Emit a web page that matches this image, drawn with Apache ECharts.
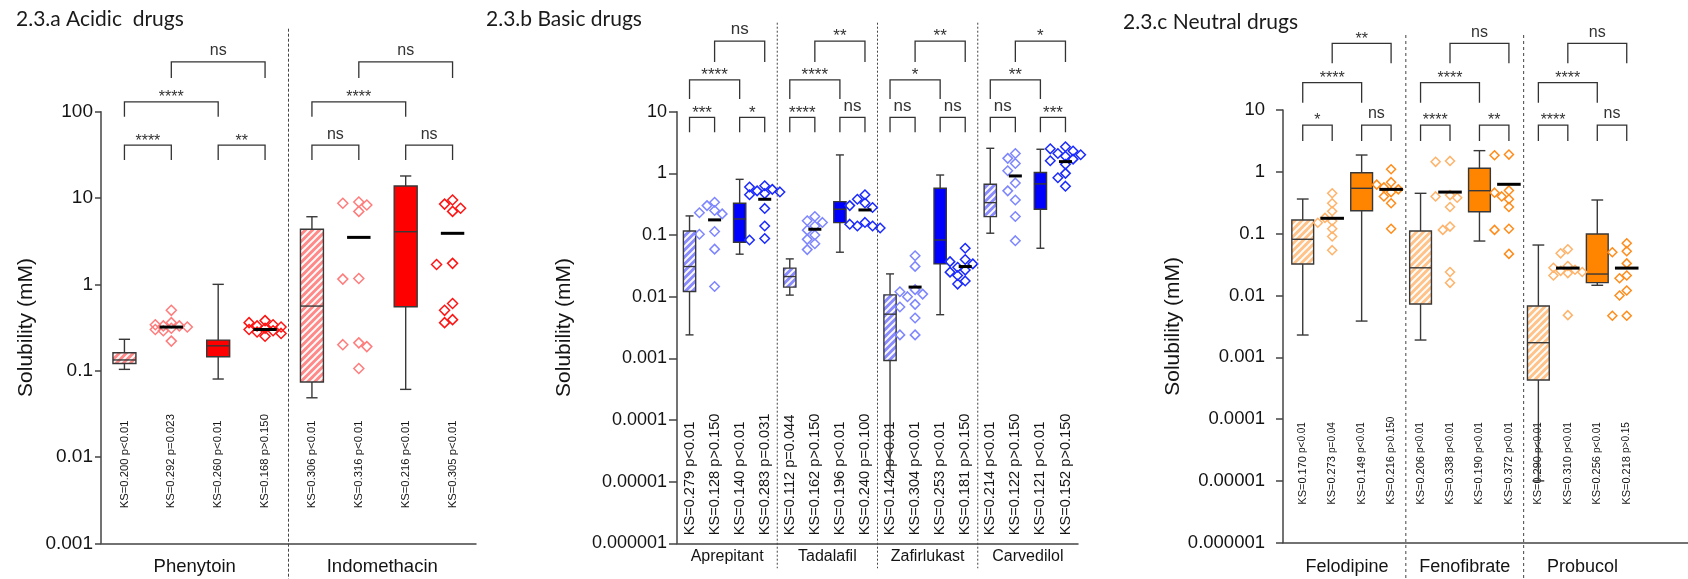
<!DOCTYPE html>
<html><head><meta charset="utf-8">
<script src="https://cdn.jsdelivr.net/npm/echarts@6/dist/echarts.min.js"></script>
<style>html,body{margin:0;padding:0;background:#fff}#c{width:1688px;height:579px}</style>
</head><body><div id="c"></div>
<script>
// ================= DATA =================
// ---- 2.3.a Acidic drugs ----
const acidicDrugs = ['Phenytoin', 'Indomethacin'];
const acidicTicks = ['0.001', '0.01', '0.1', '1', '10', '100'];
const acidicBoxPos = [0, 2, 4, 6];
// [min, q1, median, q3, max]
const acidicBoxes = [
  [0.1035, 0.121, 0.133, 0.161, 0.231],
  [0.080, 0.145, 0.194, 0.226, 1.0],
  [0.0485, 0.074, 0.56, 4.34, 6.07],
  [0.0607, 0.55, 4.07, 13.8, 18.0]
];
const acidicPointPos = [1, 3, 5, 7];
const acidicPoints = [
  [0.50, 0.36, 0.34, 0.33, 0.33, 0.32, 0.31, 0.30, 0.29, 0.22],
  [0.38, 0.36, 0.34, 0.33, 0.32, 0.31, 0.30, 0.29, 0.28, 0.27, 0.25],
  [9.0, 8.7, 8.3, 7.0, 1.17, 1.15, 0.21, 0.20, 0.19, 0.106],
  [9.5, 8.5, 7.6, 7.0, 1.75, 1.7, 0.60, 0.50, 0.39, 0.36]
];
const acidicMeans = [0.32, 0.30, 3.5, 3.9];
const acidicKS = ['KS=0.200 p<0.01', 'KS=0.292 p=0.023', 'KS=0.260 p<0.01', 'KS=0.168 p>0.150',
  'KS=0.306 p<0.01', 'KS=0.316 p<0.01', 'KS=0.216 p<0.01', 'KS=0.305 p<0.01'];
// [from, to, tier, label]
const acidicSig = [[0,1,0,'****'],[2,3,0,'**'],[0,2,1,'****'],[1,3,2,'ns'],
  [4,5,0,'ns'],[6,7,0,'ns'],[4,6,1,'****'],[5,7,2,'ns']];

// ---- 2.3.b Basic drugs ----
const basicDrugs = ['Aprepitant', 'Tadalafil', 'Zafirlukast', 'Carvedilol'];
const basicTicks = ['0.000001', '0.00001', '0.0001', '0.001', '0.01', '0.1', '1', '10'];
const basicBoxPos = [0, 2, 4, 6, 8, 10, 12, 14];
const basicBoxes = [
  [0.0024, 0.0121, 0.0308, 0.116, 0.204],
  [0.0489, 0.0764, 0.182, 0.327, 0.80],
  [0.0106, 0.0143, 0.0212, 0.029, 0.041],
  [0.0526, 0.159, 0.262, 0.348, 1.99],
  [0.000015, 0.00092, 0.0052, 0.0107, 0.0234],
  [0.0051, 0.034, 0.083, 0.573, 0.94],
  [0.107, 0.199, 0.335, 0.666, 2.55],
  [0.061, 0.262, 0.675, 1.03, 2.46]
];
const basicPointPos = [1, 3, 5, 7, 9, 11, 13, 15];
const basicPoints = [
  [0.34, 0.30, 0.25, 0.23, 0.22, 0.114, 0.103, 0.059, 0.0146],
  [0.63, 0.60, 0.55, 0.52, 0.50, 0.47, 0.45, 0.27, 0.14, 0.088, 0.083],
  [0.20, 0.17, 0.16, 0.14, 0.12, 0.10, 0.085, 0.072, 0.058],
  [0.45, 0.38, 0.33, 0.30, 0.28, 0.16, 0.15, 0.14, 0.14, 0.13],
  [0.046, 0.031, 0.013, 0.012, 0.011, 0.010, 0.0075, 0.0068, 0.0045, 0.0024, 0.0024],
  [0.061, 0.040, 0.037, 0.034, 0.030, 0.027, 0.025, 0.022, 0.018, 0.016],
  [2.1, 1.75, 1.45, 1.1, 0.7, 0.52, 0.37, 0.20, 0.081],
  [2.7, 2.5, 2.3, 2.1, 2.0, 1.9, 1.7, 1.6, 1.4, 1.0, 0.85, 0.62]
];
const basicMeans = [0.176, 0.38, 0.124, 0.255, 0.0143, 0.0308, 0.908, 1.55];
const basicKS = ['KS=0.279 p<0.01', 'KS=0.128 p>0.150', 'KS=0.140 p<0.01', 'KS=0.283 p=0.031',
  'KS=0.112 p=0.044', 'KS=0.162 p>0.150', 'KS=0.196 p<0.01', 'KS=0.240 p=0.100',
  'KS=0.142 p<0.01', 'KS=0.304 p<0.01', 'KS=0.253 p<0.01', 'KS=0.181 p>0.150',
  'KS=0.214 p<0.01', 'KS=0.122 p>0.150', 'KS=0.121 p<0.01', 'KS=0.152 p>0.150'];
const basicSig = [[0,1,0,'***'],[2,3,0,'*'],[0,2,1,'****'],[1,3,2,'ns'],
  [4,5,0,'****'],[6,7,0,'ns'],[4,6,1,'****'],[5,7,2,'**'],
  [8,9,0,'ns'],[10,11,0,'ns'],[8,10,1,'*'],[9,11,2,'**'],
  [12,13,0,'ns'],[14,15,0,'***'],[12,14,1,'**'],[13,15,2,'*']];

// ---- 2.3.c Neutral drugs ----
const neutralDrugs = ['Felodipine', 'Fenofibrate', 'Probucol'];
const neutralTicks = ['0.000001', '0.00001', '0.0001', '0.001', '0.01', '0.1', '1', '10'];
const neutralBoxPos = [0, 2, 4, 6, 8, 10];
const neutralBoxes = [
  [0.00229, 0.0322, 0.081, 0.166, 0.363],
  [0.00385, 0.235, 0.541, 0.966, 1.87],
  [0.0019, 0.00726, 0.028, 0.110, 0.449],
  [0.0759, 0.226, 0.495, 1.14, 2.2],
  [0.00001, 0.000428, 0.00172, 0.00673, 0.0654],
  [0.0146, 0.0161, 0.0222, 0.0986, 0.35]
];
const neutralPointPos = [1, 3, 5, 7, 9, 11];
const neutralPoints = [
  [0.45, 0.31, 0.23, 0.18, 0.16, 0.15, 0.12, 0.09, 0.054],
  [1.1, 0.68, 0.62, 0.56, 0.52, 0.47, 0.40, 0.31, 0.12],
  [1.5, 1.45, 0.42, 0.40, 0.38, 0.27, 0.13, 0.115, 0.024, 0.016],
  [1.9, 1.85, 0.50, 0.46, 0.40, 0.36, 0.27, 0.12, 0.115, 0.047],
  [0.056, 0.048, 0.030, 0.028, 0.026, 0.025, 0.024, 0.023, 0.021, 0.0048],
  [0.070, 0.052, 0.050, 0.033, 0.021, 0.019, 0.012, 0.010, 0.0047, 0.0047]
];
const neutralMeans = [0.177, 0.52, 0.47, 0.628, 0.0277, 0.0277];
const neutralKS = ['KS=0.170 p<0.01', 'KS=0.273 p=0.04', 'KS=0.149 p<0.01', 'KS=0.216 p>0.150',
  'KS=0.206 p<0.01', 'KS=0.338 p<0.01', 'KS=0.190 p<0.01', 'KS=0.372 p<0.01',
  'KS=0.290 p<0.01', 'KS=0.310 p<0.01', 'KS=0.256 p<0.01', 'KS=0.218 p>0.15'];
const neutralSig = [[0,1,0,'*'],[2,3,0,'ns'],[0,2,1,'****'],[1,3,2,'**'],
  [4,5,0,'****'],[6,7,0,'**'],[4,6,1,'****'],[5,7,2,'ns'],
  [8,9,0,'****'],[10,11,0,'ns'],[8,10,1,'****'],[9,11,2,'ns']];

const panelTitles = ['2.3.a Acidic  drugs', '2.3.b Basic drugs', '2.3.c Neutral drugs'];
const yName = 'Solubility (mM)';

// ================= STYLE / LAYOUT =================
const FONT = 'Liberation Sans';
const TXT = '#141414';
function hatch(base) {
  const c = document.createElement('canvas'); c.width = c.height = 7;
  const g = c.getContext('2d'); g.fillStyle = base; g.fillRect(0, 0, 7, 7);
  g.strokeStyle = 'rgba(255,255,255,0.95)'; g.lineWidth = 2;
  g.beginPath();
  g.moveTo(-2, 9); g.lineTo(9, -2);
  g.moveTo(-2, 2); g.lineTo(2, -2);
  g.moveTo(5, 9); g.lineTo(9, 5);
  g.stroke();
  return { image: c, repeat: 'repeat' };
}

const panels = [
  { drugs: acidicDrugs, ticks: acidicTicks, boxPos: acidicBoxPos, boxes: acidicBoxes, ptPos: acidicPointPos,
    points: acidicPoints, means: acidicMeans, ks: acidicKS, sig: acidicSig, seps: [3.5],
    grid: { left: 101, top: 111.7, width: 375, height: 431.6 }, x: [-0.5, 7.5], y: [0.001, 100], decades: 5,
    colors: { hatch: '#FF8888', solid: '#FF0000', light: '#FF7C7C', dark: '#FF1414' },
    boxW: 0.49, capW: 0.24, meanW: 0.5, dia: 10, tierVals: [41, 130, 377], legs: [15, 15, 16],
    ksFont: 11.3, ksFont2: 11.3, ksRich: false, ksBottom: 35, yFont: 19, nameGap: 64, labMargin: 8, tickLen: 6,
    drugFont: 18.5, drugDy: 23.5, sepAbove: 83, sepBelow: 40, sepDash: [3, 2], sigFont: 16,
    title: { left: 16, top: 9 } },
  { drugs: basicDrugs, ticks: basicTicks, boxPos: basicBoxPos, boxes: basicBoxes, ptPos: basicPointPos,
    points: basicPoints, means: basicMeans, ks: basicKS, sig: basicSig, seps: [3.5, 7.5, 11.5],
    grid: { left: 677, top: 111.7, width: 401, height: 431.6 }, x: [-0.5, 15.5], y: [0.000001, 10], decades: 7,
    colors: { hatch: '#8A8AFF', solid: '#0000FF', light: '#7E86FF', dark: '#1A2AFF' },
    boxW: 0.49, capW: 0.32, meanW: 0.52, dia: 9.5, tierVals: [8.1, 32.7, 140], legs: [15, 19, 21],
    ksFont: 14.6, ksFont2: 14.6, ksRich: false, ksBottom: 8, yFont: 18, nameGap: 102, labMargin: 10, tickLen: 8,
    drugFont: 16, drugDy: 13, sepAbove: 89, sepBelow: 25, sepDash: [2, 2], sigFont: 17,
    title: { left: 486, top: 9 } },
  { drugs: neutralDrugs, ticks: neutralTicks, boxPos: neutralBoxPos, boxes: neutralBoxes, ptPos: neutralPointPos,
    points: neutralPoints, means: neutralMeans, ks: neutralKS, sig: neutralSig, seps: [3.5, 7.5],
    grid: { left: 1283, top: 110, width: 405, height: 432.7 }, x: [-0.67, 13.08], y: [0.000001, 10], decades: 7,
    colors: { hatch: '#FFC288', solid: '#FF8400', light: '#FFB36A', dark: '#FF8C1A' },
    boxW: 0.74, capW: 0.4, meanW: 0.8, dia: 9, tierVals: [5.71, 27.7, 120], legs: [16, 20, 20],
    ksFont: 11, ksFont2: 10, ksRich: true, ksBottom: 38, yFont: 18.5, nameGap: 85, labMargin: 18, tickLen: 7,
    drugFont: 18, drugDy: 24.5, sepAbove: 75, sepBelow: 40, sepDash: [3, 3], sigFont: 16,
    title: { left: 1123, top: 12 } }
];
panels.forEach(P => { P.hatchFill = hatch(P.colors.hatch); });

function stepOf(api, x, v) { return api.coord([x + 0.5, v])[0] - api.coord([x - 0.5, v])[0]; }

function swarm(ys, size) {
  const order = ys.map((_, i) => i).sort((a, b) => ys[a] - ys[b]);
  const placed = []; const offs = new Array(ys.length).fill(0);
  const cands = [0, -0.8, 0.8, -1.6, 1.6];
  order.forEach(i => {
    const y = ys[i]; let best = 0, bestD = -1;
    for (const c of cands) {
      const x = c * size; let minD = Infinity;
      placed.forEach(p => { const d = Math.hypot(p[0] - x, p[1] - y); if (d < minD) minD = d; });
      if (minD >= size * 0.85) { best = x; break; }
      if (minD > bestD) { bestD = minD; best = x; }
    }
    offs[i] = best; placed.push([best, y]);
  });
  return offs;
}

function boxRender(P) {
  return function (params, api) {
    const x = api.value(0);
    const v = [1, 2, 3, 4, 5].map(d => api.value(d));
    const cx = api.coord([x, v[2]])[0];
    const step = stepOf(api, x, v[2]);
    const y = v.map(val => api.coord([x, val])[1]);
    const bw = step * P.boxW, cw = step * P.capW;
    const hatched = (x % 4) === 0;
    const ls = { stroke: '#383838', lineWidth: 1.4 };
    return { type: 'group', children: [
      { type: 'line', shape: { x1: cx, y1: y[4], x2: cx, y2: y[3] }, style: ls },
      { type: 'line', shape: { x1: cx, y1: y[1], x2: cx, y2: y[0] }, style: ls },
      { type: 'line', shape: { x1: cx - cw / 2, y1: y[4], x2: cx + cw / 2, y2: y[4] }, style: ls },
      { type: 'line', shape: { x1: cx - cw / 2, y1: y[0], x2: cx + cw / 2, y2: y[0] }, style: ls },
      { type: 'rect', shape: { x: cx - bw / 2, y: y[3], width: bw, height: y[1] - y[3] },
        style: { fill: hatched ? P.hatchFill : P.colors.solid, stroke: '#383838', lineWidth: 1.4 } },
      { type: 'line', shape: { x1: cx - bw / 2, y1: y[2], x2: cx + bw / 2, y2: y[2] }, style: ls }
    ] };
  };
}

function ptRender(P) {
  return function (params, api) {
    const x = api.value(0), mean = api.value(1), k = api.value(2);
    const vals = P.points[k];
    const pm = api.coord([x, mean]);
    const cx = pm[0];
    const step = stepOf(api, x, mean);
    const col = (x % 4) === 1 ? P.colors.light : P.colors.dark;
    const ys = vals.map(v => api.coord([x, v])[1]);
    const offs = swarm(ys, P.dia);
    const h = P.dia / 2;
    const children = ys.map((yy, i) => {
      const xx = cx + offs[i];
      return { type: 'polygon', shape: { points: [[xx, yy - h], [xx + h, yy], [xx, yy + h], [xx - h, yy]] },
        style: { fill: 'none', stroke: col, lineWidth: 1.5 } };
    });
    const mw = step * P.meanW / 2;
    children.push({ type: 'line', shape: { x1: cx - mw, y1: pm[1], x2: cx + mw, y2: pm[1] },
      style: { stroke: '#000', lineWidth: 3 } });
    return { type: 'group', children };
  };
}

function sigRender(P) {
  return function (params, api) {
    const a = api.value(0), b = api.value(1), tier = api.value(2), k = api.value(3);
    const lvl = P.tierVals[tier];
    const p1 = api.coord([a, lvl]), p2 = api.coord([b, lvl]);
    const leg = P.legs[tier];
    const label = P.sig[k][3];
    const star = label.indexOf('*') >= 0;
    return { type: 'group', children: [
      { type: 'polyline', shape: { points: [[p1[0], p1[1] + leg], [p1[0], p1[1]], [p2[0], p2[1]], [p2[0], p2[1] + leg]] },
        style: { stroke: '#333', lineWidth: 1.3, fill: 'none' } },
      { type: 'text', x: (p1[0] + p2[0]) / 2, y: p1[1] + (star ? 4 : -3),
        style: { text: label, align: 'center', verticalAlign: 'bottom', fontSize: P.sigFont, fontFamily: FONT, fill: '#333' } }
    ] };
  };
}

function ksRender(P) {
  return function (params, api) {
    const i = api.value(0);
    const cx = api.coord([i, P.y[1]])[0];
    const cs = params.coordSys;
    const by = cs.y + cs.height - P.ksBottom;
    const s = P.ks[i];
    let style;
    if (P.ksRich) {
      const j = s.indexOf(' p');
      style = { text: '{a|' + s.slice(0, j) + ' }{b|' + s.slice(j + 1) + '}',
        rich: { a: { fontSize: P.ksFont, fontFamily: FONT, fill: TXT }, b: { fontSize: P.ksFont2, fontFamily: FONT, fill: TXT } } };
    } else {
      style = { text: s, fontSize: P.ksFont, fontFamily: FONT, fill: TXT };
    }
    style.align = 'left'; style.verticalAlign = 'middle';
    return { type: 'text', x: cx, y: by, rotation: Math.PI / 2, style };
  };
}

function drugRender(P) {
  return function (params, api) {
    const j = api.value(0);
    const cx = api.coord([1.5 + 4 * j, P.y[1]])[0];
    const cs = params.coordSys;
    return { type: 'text', x: cx, y: cs.y + cs.height + P.drugDy,
      style: { text: P.drugs[j], align: 'center', verticalAlign: 'middle', fontSize: P.drugFont, fontFamily: FONT, fill: TXT } };
  };
}

function sepRender(P) {
  return function (params, api) {
    const x = api.coord([api.value(0), P.y[1]])[0];
    const cs = params.coordSys;
    return { type: 'line', shape: { x1: x, y1: cs.y - P.sepAbove, x2: x, y2: cs.y + cs.height + P.sepBelow },
      style: { stroke: '#444', lineWidth: 1, lineDash: P.sepDash } };
  };
}

const option = { animation: false, backgroundColor: '#fff', title: [], grid: [], xAxis: [], yAxis: [], series: [] };
panels.forEach((P, gi) => {
  option.title.push({ text: panelTitles[gi], left: P.title.left, top: P.title.top, padding: 0,
    textStyle: { fontFamily: 'Lato', fontSize: 21, fontWeight: 'normal', color: '#1a1a1a' } });
  option.grid.push(Object.assign({ containLabel: false }, P.grid));
  option.xAxis.push({ gridIndex: gi, type: 'value', min: P.x[0], max: P.x[1],
    axisLine: { show: true, onZero: false, lineStyle: { color: '#444', width: 1.5 } },
    axisTick: { show: false }, splitLine: { show: false }, axisLabel: { show: false } });
  option.yAxis.push({ gridIndex: gi, type: 'log', logBase: 10, min: P.y[0], max: P.y[1], splitNumber: P.decades,
    axisLine: { show: true, onZero: false, lineStyle: { color: '#444', width: 1.5 } },
    axisTick: { show: true, length: P.tickLen, inside: false, lineStyle: { color: '#444', width: 1.5 } },
    splitLine: { show: false }, minorTick: { show: false },
    axisLabel: { formatter: v => P.ticks[Math.round(Math.log10(v) - Math.log10(P.y[0]))] || '',
      fontSize: P.yFont, fontFamily: FONT, color: TXT, margin: P.labMargin },
    name: yName, nameLocation: 'middle', nameGap: P.nameGap, nameRotate: 90,
    nameTextStyle: { fontSize: 21, fontFamily: FONT, color: TXT } });
  const base = { type: 'custom', coordinateSystem: 'cartesian2d', xAxisIndex: gi, yAxisIndex: gi, clip: false, silent: true };
  option.series.push(Object.assign({}, base, { z: 1, renderItem: sepRender(P), data: P.seps.map(s => [s, P.y[1]]) }));
  option.series.push(Object.assign({}, base, { z: 2, renderItem: ksRender(P), data: P.ks.map((s, i) => [i, P.y[1]]) }));
  option.series.push(Object.assign({}, base, { z: 2, renderItem: drugRender(P), data: P.drugs.map((d, j) => [j, P.y[1]]) }));
  option.series.push(Object.assign({}, base, { z: 3, renderItem: boxRender(P), data: P.boxPos.map((p, k) => [p].concat(P.boxes[k])) }));
  option.series.push(Object.assign({}, base, { z: 4, renderItem: ptRender(P), data: P.ptPos.map((p, k) => [p, P.means[k], k]) }));
  option.series.push(Object.assign({}, base, { z: 5, renderItem: sigRender(P), data: P.sig.map((s, k) => [s[0], s[1], s[2], k]) }));
});

const chart = echarts.init(document.getElementById('c'), null, { renderer: 'canvas' });
chart.setOption(option);
</script></body></html>
